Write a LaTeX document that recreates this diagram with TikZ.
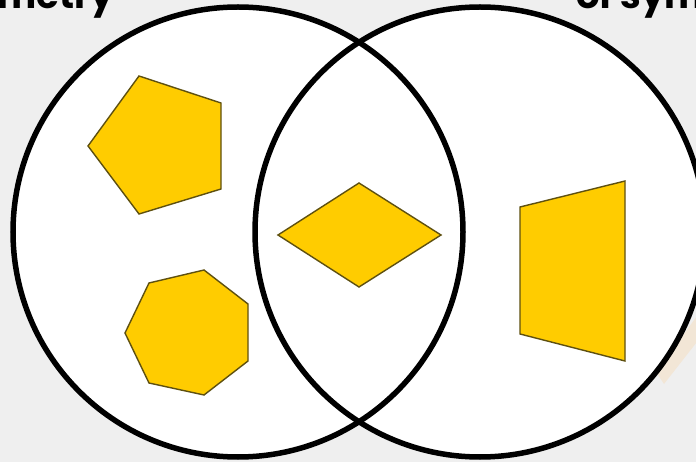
\documentclass[tikz,border=0pt]{standalone}
\usepackage{fontspec}
\setmainfont{Poppins}
\definecolor{bgc}{HTML}{EFEFEF}
\definecolor{gold}{HTML}{FFCC00}
\definecolor{edgec}{HTML}{5E5010}
\definecolor{glow}{HTML}{F2E6D6}
\begin{document}
\begin{tikzpicture}[x=1pt,y=-1pt,
  ring/.style={line width=5.5pt,draw=black},
  shapefill/.style={fill=gold,draw=edgec,line width=1.4pt,line join=miter},
  title/.style={font=\fontsize{37}{40}\selectfont\bfseries,anchor=base west,inner sep=0pt}]
\useasboundingbox (0,0) rectangle (696,462);
\clip (0,0) rectangle (696,462);
\fill[bgc] (0,0) rectangle (696,462);
\fill[glow] (656,372) -- (700,312) -- (700,338) -- (664,384) -- cycle;
\node[title] (t1) at (-3,9) {metry};
\node[title] (t2) at (576,9) {of sym};
\fill[white] (238,232) circle (225pt);
\fill[white] (480,232) circle (225pt);
\draw[shapefill] (139,76) -- (221,103) -- (221,189) -- (139,214) -- (88,146) -- cycle;
\draw[shapefill] (149,283) -- (204,270) -- (248,304) -- (248,361) -- (204,395) -- (149,383) -- (125,333) -- cycle;
\draw[shapefill] (359,183) -- (441,235) -- (359,287) -- (278,235) -- cycle;
\draw[shapefill] (520,207) -- (625,181) -- (625,361) -- (520,334) -- cycle;
\draw[ring] (238,232) circle (225pt);
\draw[ring] (480,232) circle (225pt);
\end{tikzpicture}
\end{document}
